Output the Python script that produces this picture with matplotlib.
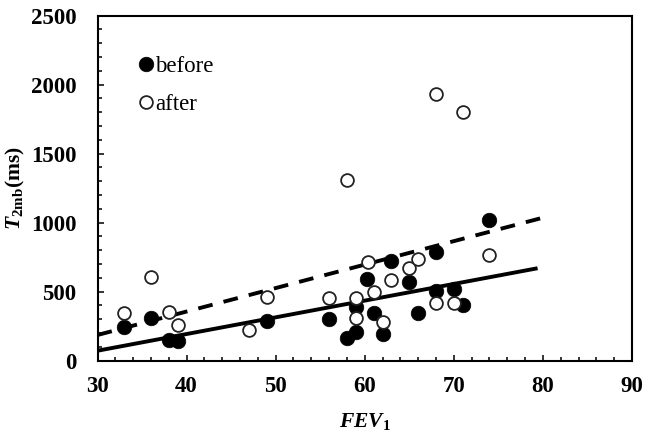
import numpy as np
import matplotlib
matplotlib.use('Agg')
import matplotlib.pyplot as plt
from matplotlib.ticker import MultipleLocator

plt.rcParams['font.family'] = ['Liberation Serif', 'DejaVu Serif']
plt.rcParams['mathtext.fontset'] = 'custom'
plt.rcParams['mathtext.rm'] = 'Liberation Serif:bold'
plt.rcParams['mathtext.bf'] = 'Liberation Serif:bold'
plt.rcParams['mathtext.it'] = 'Liberation Serif:italic:bold'

# before (filled)
fev_before = [33, 36, 38, 39, 49, 56, 59, 59, 58, 60.2, 61, 62, 63, 65, 66, 68, 68, 70, 71, 74]
t2_before = [240, 310, 150, 145, 290, 298, 390, 209, 161, 588, 347, 192, 721, 571, 347, 788, 506, 516, 402, 1018]

# after (open)
fev_after = [33, 36, 38, 39, 47, 49, 56, 59, 59, 60.4, 61, 62, 63, 65, 66, 68, 70, 74, 68, 71, 58]
t2_after = [345, 605, 355, 255, 220, 460, 455, 455, 306, 716, 499, 281, 583, 673, 733, 414, 414, 764, 1929, 1803, 1308]

# fitted lines: slope, intercept, x range
fit_before = (12.1, -292.0, 30, 79.4)
fit_after = (17.0, -325.0, 30, 80.5)

fig = plt.figure(figsize=(6.5, 4.37), dpi=100)
ax = fig.add_axes([0.15, 0.175, 0.8223, 0.7895])

for (k, b, x0, x1), ls in [(fit_before, '-'), (fit_after, '--')]:
    xs = np.array([x0, x1])
    line, = ax.plot(xs, k * xs + b, color='black', lw=2.8, ls=ls, zorder=3,
                    solid_capstyle='butt', dash_capstyle='butt')
    if ls == '--':
        line.set_dashes((3.8, 2.9))

ax.plot(fev_before, t2_before, 'o', ms=10.5, mfc='black', mec='black', mew=0.5,
        ls='none', zorder=4, label='before')
ax.plot(fev_after, t2_after, 'o', ms=9.2, mfc='white', mec='#222222', mew=1.3,
        ls='none', zorder=5, label='after')

ax.set_xlim(30, 90)
ax.set_ylim(0, 2500)
ax.xaxis.set_major_locator(MultipleLocator(10))
ax.xaxis.set_minor_locator(MultipleLocator(2))
ax.yaxis.set_major_locator(MultipleLocator(500))
ax.yaxis.set_minor_locator(MultipleLocator(100))
ax.tick_params(which='both', direction='in', top=False, right=False, width=1.1)
ax.tick_params(which='major', length=4.5)
ax.tick_params(which='minor', length=3)
ax.tick_params(axis='x', which='major', pad=11, labelsize=16.5)
ax.tick_params(axis='y', which='major', pad=15, labelsize=16.5)
for t in ax.get_xticklabels() + ax.get_yticklabels():
    t.set_fontweight('bold')
for s in ax.spines.values():
    s.set_linewidth(1.5)

ax.set_xlabel(r'$\mathit{FEV}_{\mathrm{1}}$', fontsize=15.5, labelpad=10)
ax.set_ylabel(r'$\mathit{T}_{\mathrm{2mb}}\mathrm{(ms)}$', fontsize=15.5, labelpad=3)

ax.legend(loc='upper left', bbox_to_anchor=(0.052, 0.917), frameon=False, fontsize=16.5,
          handlelength=0.8, handletextpad=0.0, labelspacing=0.77, borderpad=0)

fig.savefig('out.png', dpi=100)
